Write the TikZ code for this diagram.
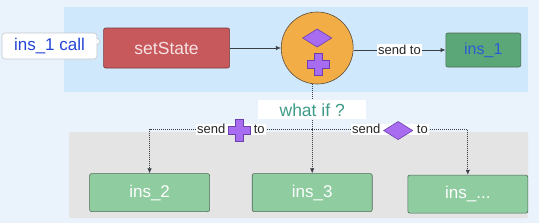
\documentclass[tikz,border=0pt]{standalone}
\usepackage{fontspec}
\setmainfont{Liberation Sans}
\usetikzlibrary{positioning,arrows.meta,calc}

\definecolor{pagebg}{HTML}{EAF3FB}
\definecolor{topbg}{HTML}{CFE8FB}
\definecolor{lowbg}{HTML}{E4E4E4}
\definecolor{callgray}{HTML}{C3C8CE}
\definecolor{callblue}{HTML}{2445D6}
\definecolor{setred}{HTML}{C7585B}
\definecolor{setedge}{HTML}{7A3B3D}
\definecolor{settext}{HTML}{F6E2E2}
\definecolor{hubfill}{HTML}{F2AD47}
\definecolor{hubedge}{HTML}{5A4A3A}
\definecolor{markpurple}{HTML}{A86CF0}
\definecolor{markedge}{HTML}{6B3FAE}
\definecolor{darkgreen}{HTML}{5BA777}
\definecolor{lightgreen}{HTML}{8FCCA0}
\definecolor{greenedge}{HTML}{4E6B57}
\definecolor{insblue}{HTML}{2C5BD6}
\definecolor{asktext}{HTML}{3E9B87}
\definecolor{linegray}{HTML}{3A3F45}

\newcommand{\fsz}[1]{\fontsize{#1}{#1}\selectfont}

% purple marks used in the hub and in the labels
\tikzset{
  markline/.style={solid, fill=markpurple, draw=markedge, line width=0.6pt},
  plusmark/.pic={\filldraw[markline] (-4,-11) -- (4,-11) -- (4,-4) -- (11,-4) -- (11,4) -- (4,4) -- (4,11) -- (-4,11) -- (-4,4) -- (-11,4) -- (-11,-4) -- (-4,-4) -- cycle;},
  diamark/.pic={\filldraw[markline] (-14.5,0) -- (0,9) -- (14.5,0) -- (0,-9) -- cycle;}
}
\newcommand{\plusglyph}{\smash{\tikz[baseline=-3.4pt]\pic{plusmark};}}
\newcommand{\diamglyph}{\smash{\tikz[baseline=-3.4pt]\pic{diamark};}}

\begin{document}
\begin{tikzpicture}[x=1pt, y=-1pt,
  box/.style={draw, rounded corners=2pt, align=center, inner sep=0pt, line width=0.6pt},
  callbox/.style={box, draw=callgray, fill=white, rounded corners=3pt, minimum width=95pt, minimum height=26pt, text=callblue, font=\fsz{17}},
  setbox/.style={box, draw=setedge, fill=setred, minimum width=126pt, minimum height=40pt, text=settext, font=\fsz{17.5}},
  hubnode/.style={circle, draw=hubedge, fill=hubfill, minimum size=72pt, inner sep=0pt, line width=0.6pt},
  donebox/.style={box, draw=greenedge, fill=darkgreen, minimum width=75pt, minimum height=34pt, text=insblue, font=\fsz{16}},
  insbox/.style={box, draw=greenedge, fill=lightgreen, minimum width=120pt, minimum height=38pt, text=white, font=\fsz{17}},
  arr/.style={-{Latex[length=5pt,width=4.5pt]}, line width=0.8pt, draw=linegray},
  dotarr/.style={arr, dash pattern=on 0.8pt off 1.2pt},
  lbl/.style={fill=white, inner sep=1pt, text=black!85, font=\fsz{13}},
  asklbl/.style={fill=white, inner sep=0pt, minimum width=108pt, minimum height=19pt, text=asktext, font=\fsz{17.5}}
]
\useasboundingbox (0,0) rectangle (539,223);
\fill[pagebg] (0,0) rectangle (539,223);
\fill[topbg] (64,7) rectangle (528,92);
\fill[lowbg, rounded corners=2pt] (69,132) rectangle (528,218);

\node[callbox] (call) at (49.5,46) {ins\_1 call};
\node[setbox, right=6pt of call, yshift=-2pt] (set) {setState};
\node[hubnode, right=51pt of set] (hub) {};
\node[donebox, right=92pt of hub, yshift=-2pt] (ins1) {ins\_1};
\node[insbox, below=89pt of hub, xshift=-5pt] (ins3) {ins\_3};
\node[insbox, left=42pt of ins3] (ins2) {ins\_2};
\node[insbox, right=35pt of ins3, yshift=-1.5pt] (insN) {ins\_...};

% callout tip and hub marks
\filldraw[fill=white, draw=callgray, line width=0.6pt] ($(call.east)+(-0.6,-8)$) -- ($(call.east)+(3,-4.5)$) -- ($(call.east)+(-0.6,-1)$);
\pic at ($(hub.center)+(0,-10)$) {diamark};
\pic at ($(hub.center)+(1,16)$) {plusmark};

\draw[arr] (set.east) -- (set.east -| hub.west);
\draw[arr] (hub.east |- ins1.west) -- (ins1.west) node[lbl, midway] {send to};

\coordinate (fork) at ($(ins3.north)+(0,-44)$);
\draw[dotarr] (hub.south -| ins3.north) -- (ins3.north);
\node[asklbl] (ask) at ($(ins3.north)+(0,-63.5)$) {what if ?};
\draw[dotarr] (fork) -| (ins2.north) node[lbl, pos=0.25] {send\hspace{3pt}\plusglyph\hspace{3pt}to};
\draw[dotarr] (fork) -| (insN.north) node[lbl, pos=0.25] {send\hspace{3pt}\diamglyph\hspace{4pt}to};
\end{tikzpicture}
\end{document}
